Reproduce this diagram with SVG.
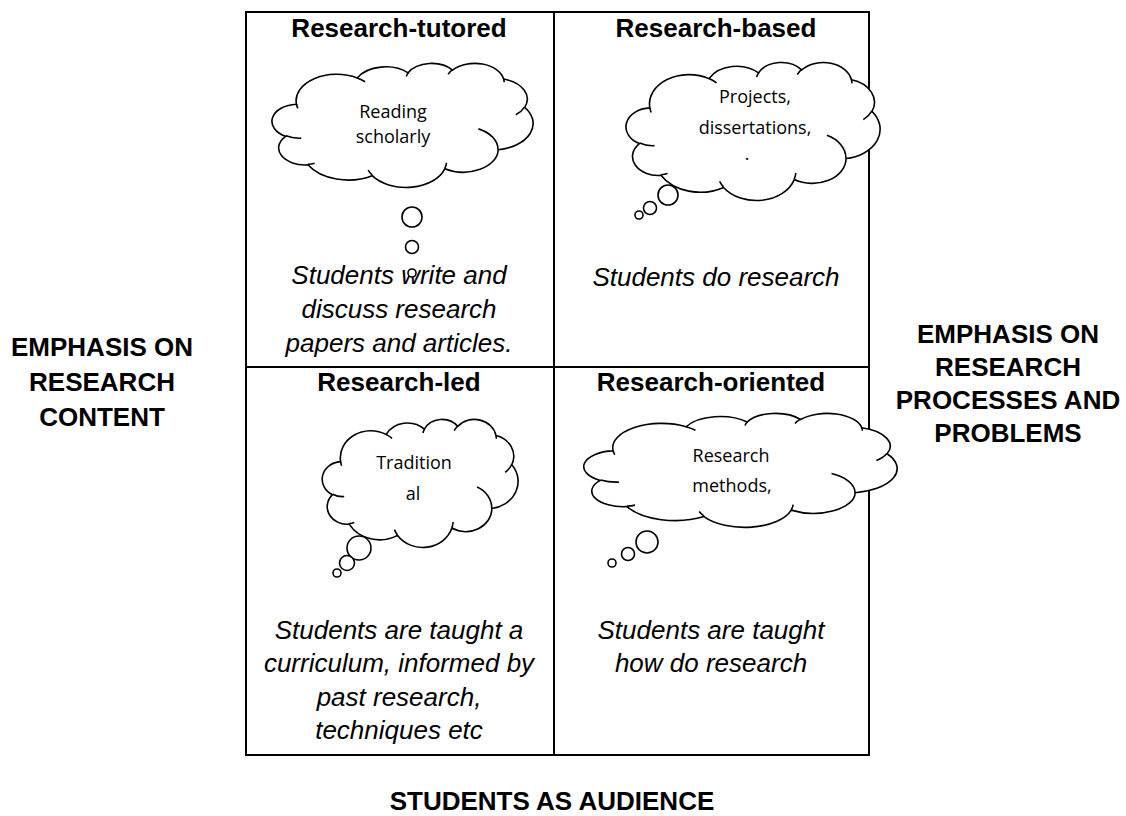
<svg xmlns="http://www.w3.org/2000/svg" xmlns:xlink="http://www.w3.org/1999/xlink" width="1126" height="816" viewBox="0 0 1126 816">
<style>
.grid{fill:none;stroke:#000;stroke-width:2}
.title{font-family:"Liberation Sans",Arial,sans-serif;font-weight:bold;font-size:26px;fill:#000;text-anchor:middle}
.desc{font-family:"Liberation Sans",Arial,sans-serif;font-style:italic;font-size:26px;fill:#000;text-anchor:middle}
.side{font-family:"Liberation Sans",Arial,sans-serif;font-weight:bold;font-size:26px;fill:#000;text-anchor:middle}
.ct{font-family:"Open Sans","Noto Sans",sans-serif;font-size:18px;fill:#000;text-anchor:middle}
.cloud{fill:#fff;stroke:#000;stroke-width:1.6}
.inner{fill:none;stroke:#000;stroke-width:1.6}
.bub{fill:#fff;stroke:#000;stroke-width:1.6}
</style>
<defs>
<path id="cloudOuter" vector-effect="non-scaling-stroke" d="M3900 14370A6753 9190 0 0 1 14006 5203A5333 7267 0 0 1 22458 3432A4365 5945 0 0 1 29834 2478A4857 6595 0 0 1 38320 5572A5333 7273 0 0 1 41820 15456A6775 9220 0 0 1 37407 30200A5785 7867 0 0 1 28558 36810A6752 9215 0 0 1 16483 39262A7720 10543 0 0 1 5807 35466A4360 5918 0 0 1 2115 25544A4345 5945 0 0 1 3900 14370Z"/>
<path id="cloudInner" vector-effect="non-scaling-stroke" d="M4693 26177A4345 5945 0 0 1 2159 25379M6928 34899A4360 5918 0 0 1 5819 35281M16478 39090A6752 9215 0 0 1 15810 37349M28827 34751A6752 9215 0 0 1 28560 36661M34129 22954A5785 7867 0 0 1 37381 30090M41798 15354A5333 7273 0 0 1 40349 18031M38324 5426A4857 6595 0 0 1 38400 6690M29078 3952A4857 6595 0 0 1 29820 2339M22141 4720A4365 5945 0 0 1 22500 3332M14000 5192A6753 9190 0 0 1 15299 6540M4127 15789A6753 9190 0 0 1 3900 14370"/>
</defs>
<rect width="1126" height="816" fill="#fff"/>
<g id="connectors">
<rect class="grid" x="246" y="12" width="623" height="743"/>
<line class="grid" x1="554" y1="12" x2="554" y2="755"/>
<line class="grid" x1="246" y1="367" x2="869" y2="367"/>
</g>
<g id="research-tutored">
<text class="title" x="399" y="37">Research-tutored</text>
<text class="desc" x="399" y="284">Students write and</text>
<text class="desc" x="399" y="318">discuss research</text>
<text class="desc" x="399" y="352">papers and articles.</text>
<g transform="translate(273 63) scale(0.0060185 0.0028704)"><use href="#cloudOuter" class="cloud"/><use href="#cloudInner" class="inner"/></g>
<circle class="bub" cx="412" cy="217" r="10"/>
<circle class="bub" cx="412" cy="247" r="6.5"/>
<circle class="bub" cx="412" cy="273" r="4"/>
<text class="ct" x="393" y="118">Reading</text>
<text class="ct" x="393" y="143">scholarly</text>
</g>
<g id="research-based">
<text class="title" x="716" y="37">Research-based</text>
<text class="desc" x="716" y="286">Students do research</text>
<g transform="translate(627 62) scale(0.0058565 0.0031944)"><use href="#cloudOuter" class="cloud"/><use href="#cloudInner" class="inner"/></g>
<circle class="bub" cx="668" cy="195" r="10"/>
<circle class="bub" cx="650" cy="208" r="6.5"/>
<circle class="bub" cx="639" cy="215" r="4"/>
<text class="ct" x="755" y="103">Projects,</text>
<text class="ct" x="755" y="134">dissertations,</text>
<text class="ct" x="747" y="160">.</text>
</g>
<g id="research-led">
<text class="title" x="399" y="391">Research-led</text>
<text class="desc" x="399" y="639">Students are taught a</text>
<text class="desc" x="399" y="672">curriculum, informed by</text>
<text class="desc" x="399" y="706">past research,</text>
<text class="desc" x="399" y="739">techniques etc</text>
<g transform="translate(323 419) scale(0.0045139 0.0029630)"><use href="#cloudOuter" class="cloud"/><use href="#cloudInner" class="inner"/></g>
<circle class="bub" cx="359" cy="548" r="12"/>
<circle class="bub" cx="347" cy="563" r="7.5"/>
<circle class="bub" cx="337" cy="573" r="4"/>
<text class="ct" x="414" y="469">Tradition</text>
<text class="ct" x="413" y="500">al</text>
</g>
<g id="research-oriented">
<text class="title" x="711" y="391">Research-oriented</text>
<text class="desc" x="711" y="639">Students are taught</text>
<text class="desc" x="711" y="672">how do research</text>
<g transform="translate(585 413) scale(0.0072222 0.0026389)"><use href="#cloudOuter" class="cloud"/><use href="#cloudInner" class="inner"/></g>
<circle class="bub" cx="647" cy="542" r="11"/>
<circle class="bub" cx="628" cy="554" r="6.5"/>
<circle class="bub" cx="612" cy="563" r="4"/>
<text class="ct" x="731" y="462">Research</text>
<text class="ct" x="732" y="492">methods,</text>
</g>
<g id="label-left">
<text class="side" x="102" y="356">EMPHASIS ON</text>
<text class="side" x="102" y="391">RESEARCH</text>
<text class="side" x="102" y="426">CONTENT</text>
</g>
<g id="label-right">
<text class="side" x="1008" y="343">EMPHASIS ON</text>
<text class="side" x="1008" y="376">RESEARCH</text>
<text class="side" x="1008" y="409">PROCESSES AND</text>
<text class="side" x="1008" y="442">PROBLEMS</text>
</g>
<g id="label-bottom">
<text class="side" x="552" y="810">STUDENTS AS AUDIENCE</text>
</g>
</svg>
